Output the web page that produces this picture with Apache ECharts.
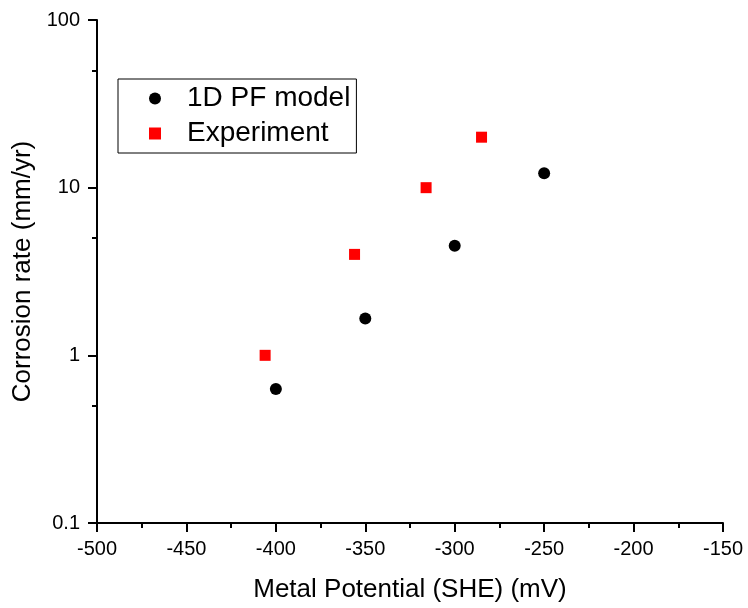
<!DOCTYPE html>
<html>
<head>
<meta charset="utf-8">
<script src="https://cdn.jsdelivr.net/npm/echarts@6/dist/echarts.min.js"></script>
<style>
  html, body { margin: 0; padding: 0; background: #fff; }
  #chart { width: 748px; height: 608px; }
</style>
</head>
<body>
<div id="chart"></div>
<script>
// Corrosion rate vs. metal potential: phase-field model vs. experiment
const potentialModel = [-400, -350, -300, -250];      // mV (SHE)
const rateModel      = [0.63, 1.66, 4.5, 12.2];        // mm/yr
const potentialExp   = [-406, -356, -316, -285];      // mV (SHE)
const rateExp        = [1, 4, 10, 20];                 // mm/yr
const minorLogTicks  = [0.5, 5, 50];                   // intermediate ticks on the log axis

const FONT = '"Liberation Sans", Arial, sans-serif';
const RATE_MIN = 0.1, RATE_MAX = 100;

const modelData = potentialModel.map((x, i) => [x, rateModel[i]]);
const expData = potentialExp.map((x, i) => [x, rateExp[i]]);

const chart = echarts.init(document.getElementById('chart'), null, { renderer: 'canvas' });

const black = { color: '#000', width: 2 };

chart.setOption({
  backgroundColor: '#fff',
  animation: false,
  grid: { left: 97, right: 25, top: 20, bottom: 84, containLabel: false },
  legend: {
    orient: 'vertical',
    left: 118,
    top: 79,
    padding: [4, 6, 4, 31],
    itemGap: 4,
    itemWidth: 12,
    itemHeight: 12,
    borderColor: '#000',
    borderWidth: 1,
    textStyle: { fontFamily: FONT, fontSize: 28, color: '#000', lineHeight: 31, padding: [0, 0, 0, 21] },
    data: ['1D PF model', 'Experiment']
  },
  xAxis: {
    type: 'value',
    min: -500,
    max: -150,
    interval: 50,
    name: 'Metal Potential (SHE) (mV)',
    nameLocation: 'middle',
    nameGap: 54,
    nameTextStyle: { fontFamily: FONT, fontSize: 26, color: '#000' },
    axisLine: { show: true, onZero: false, lineStyle: black },
    axisTick: { show: true, inside: false, length: 9, lineStyle: black },
    minorTick: { show: true, splitNumber: 2, length: 5, lineStyle: black },
    axisLabel: { fontFamily: FONT, fontSize: 20, color: '#000', margin: 16 },
    splitLine: { show: false }
  },
  yAxis: [
    {
      type: 'log',
      logBase: 10,
      min: RATE_MIN,
      max: RATE_MAX,
      name: 'Corrosion rate (mm/yr)',
      nameLocation: 'middle',
      nameGap: 49,
      nameTextStyle: { fontFamily: FONT, fontSize: 26, color: '#000' },
      axisLine: { show: true, onZero: false, lineStyle: black },
      axisTick: { show: true, inside: false, length: 9, lineStyle: black },
      axisLabel: {
        fontFamily: FONT, fontSize: 20, color: '#000', margin: 17,
        formatter: v => String(v)
      },
      splitLine: { show: false }
    },
    {
      // overlay in log10 space carrying only the short ticks at 0.5, 5, 50
      type: 'value',
      min: Math.log10(RATE_MIN),
      max: Math.log10(RATE_MAX),
      position: 'left',
      axisLine: { show: false, onZero: false },
      axisTick: { show: true, inside: false, length: 5, customValues: minorLogTicks.map(Math.log10), lineStyle: black },
      axisLabel: { show: false },
      splitLine: { show: false }
    }
  ],
  series: [
    {
      name: '1D PF model',
      type: 'scatter',
      symbol: 'circle',
      symbolSize: 12,
      itemStyle: { color: '#000', opacity: 1 },
      data: modelData
    },
    {
      name: 'Experiment',
      type: 'scatter',
      symbol: 'rect',
      symbolSize: 11,
      itemStyle: { color: '#ff0000', opacity: 1 },
      data: expData
    }
  ]
});
</script>
</body>
</html>
